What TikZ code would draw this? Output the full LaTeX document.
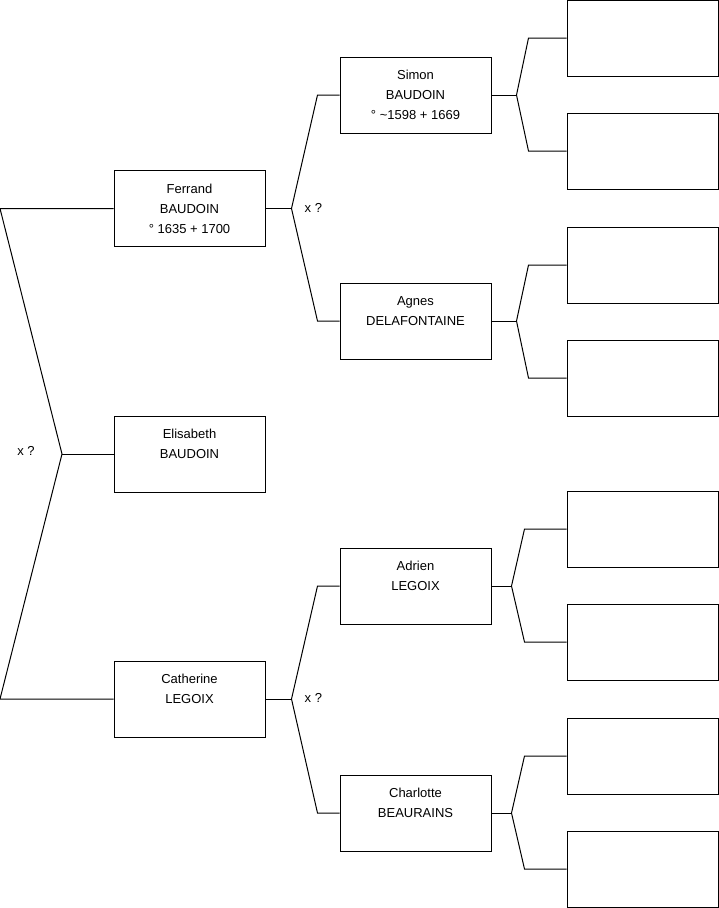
\documentclass[tikz,border=0pt]{standalone}
\usepackage{fontspec}
\setmainfont{Liberation Sans}
\usetikzlibrary{positioning,calc}

\tikzset{
  person/.style={draw,line width=1pt,minimum width=151pt,minimum height=76pt,
    inner sep=0pt,align=center,font=\fontsize{13}{20}\selectfont},
  link/.style={draw,line width=1pt},
  union/.style={inner sep=0pt,font=\fontsize{13}{20}\selectfont}
}

\begin{document}
\begin{tikzpicture}[x=1pt,y=-1pt]
    \useasboundingbox (0,0) rectangle (719,908);
    % child and parents
    \node[person] (ferrand) at (189.5,208.5) {Ferrand\\BAUDOIN\\° 1635 + 1700};
    \node[person] (elisabeth) at (189.5,454) {Elisabeth\\BAUDOIN\\\mbox{}};
    \node[person] (catherine) at (189.5,699) {Catherine\\LEGOIX\\\mbox{}};
    % grandparents
    \node[person] (simon) at (415.5,95) {Simon\\BAUDOIN\\° \textasciitilde1598 + 1669};
    \node[person] (agnes) at (415.5,321) {Agnes\\DELAFONTAINE\\\mbox{}};
    \node[person] (adrien) at (415.5,586) {Adrien\\LEGOIX\\\mbox{}};
    \node[person] (charlotte) at (415.5,813) {Charlotte\\BEAURAINS\\\mbox{}};
    % unknown ancestors
    \foreach \yy [count=\i] in {38,151,265,378,529,642,756,869}
      \node[person] (anc\i) at (642.5,\yy) {};

    % left bracket
    \coordinate (jl) at (62,454);
    \draw[link] (ferrand.west) -- (ferrand.west -| 0,0) coordinate (jl-top) -- (jl)
      -- (catherine.west -| 0,0) coordinate (jl-bot) -- (catherine.west);
    \draw[link] (jl) -- (elisabeth.west);
    \node[union] (xl) at (26,451) {x ?};

    % parents brackets
    \foreach \c/\f/\m in {ferrand/simon/agnes,catherine/adrien/charlotte}{
      \draw[link] (\c.east) -- ++(26,0) coordinate (\c-j);
      \draw[link] (\f.west) -- ++(-22,0) -- (\c-j) -- ($(\m.west)+(-22,0)$) -- (\m.west);
      \node[union,anchor=west] (\c-x) at ($(\c-j)+(13,-1)$) {x ?};
    }

    % grandparents brackets
    \foreach \p/\a/\b/\dj/\dc in {simon/1/2/25/38,agnes/3/4/25/38,adrien/5/6/20/42,charlotte/7/8/20/42}{
      \draw[link] (\p.east) -- ++(\dj,0) coordinate (\p-j);
      \draw[link] (anc\a.west) -- ++(-\dc,0) -- (\p-j) -- ($(anc\b.west)+(-\dc,0)$) -- (anc\b.west);
    }
\end{tikzpicture}
\end{document}
